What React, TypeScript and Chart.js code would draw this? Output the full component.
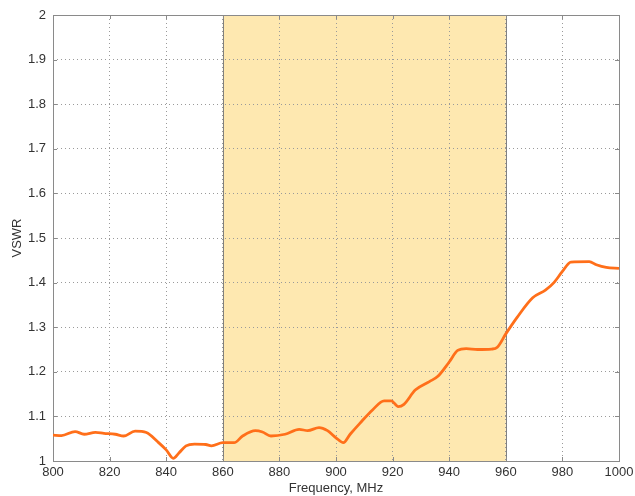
import React, { useEffect, useRef } from "react";
import { Chart, registerables } from "chart.js";

Chart.register(...registerables);

const freqMHz = [
  800, 803, 807.8, 811, 815, 818, 822, 825, 829, 833, 837, 840, 842.5, 844.5, 847, 850, 854, 856,
  860, 864, 867, 871.5, 874, 877, 882, 887, 890, 894, 897, 900, 902.6, 905, 908.5, 913, 917, 919.5,
  922, 924, 928, 933, 936, 940, 943, 946, 950, 955, 957, 960, 964, 969.5, 974, 977, 980, 983, 989.5,
  992, 995.5, 1000,
];
const vswr = [
  1.058, 1.057, 1.066, 1.06, 1.064, 1.062, 1.06, 1.056, 1.067, 1.064, 1.043, 1.025, 1.006, 1.018,
  1.034, 1.038, 1.037, 1.034, 1.041, 1.041, 1.056, 1.068, 1.065, 1.056, 1.06, 1.071, 1.068, 1.075,
  1.068, 1.052, 1.041, 1.06, 1.085, 1.115, 1.135, 1.135, 1.122, 1.127, 1.159, 1.178, 1.19, 1.222,
  1.248, 1.252, 1.25, 1.251, 1.255, 1.285, 1.322, 1.366, 1.383, 1.4, 1.425, 1.446, 1.447, 1.44,
  1.434, 1.432,
];
const bandStart = 860;
const bandEnd = 960;
const xMin = 800;
const xMax = 1000;
const yMin = 1;
const yMax = 2;

const FONT = { family: "'Liberation Sans', Arial, sans-serif", size: 13 };
const TEXT = "#333333";

const framePlugin = {
  id: "frame",
  beforeDraw(chart: any) {
    const { ctx, chartArea } = chart;
    const xs = chart.scales.x;
    const x0 = xs.getPixelForValue(bandStart);
    const x1 = xs.getPixelForValue(bandEnd);
    ctx.save();
    ctx.fillStyle = "#FEE8B0";
    ctx.fillRect(x0, chartArea.top, x1 - x0, chartArea.bottom - chartArea.top);
    ctx.restore();
  },
  beforeDatasetsDraw(chart: any) {
    const { ctx, chartArea } = chart;
    const xs = chart.scales.x;
    const ys = chart.scales.y;
    const { left, right, top, bottom } = chartArea;
    ctx.save();
    ctx.strokeStyle = "#808080";
    ctx.lineWidth = 1;
    [bandStart, bandEnd].forEach((v) => {
      const px = Math.round(xs.getPixelForValue(v)) + 0.5;
      ctx.beginPath();
      ctx.moveTo(px, top);
      ctx.lineTo(px, bottom);
      ctx.stroke();
    });
    ctx.strokeStyle = "#8a8a8a";
    ctx.strokeRect(Math.round(left) + 0.5, Math.round(top) + 0.5, Math.round(right - left), Math.round(bottom - top));
    const tl = 4;
    xs.ticks.forEach((t: any) => {
      const px = Math.round(xs.getPixelForValue(t.value)) + 0.5;
      ctx.beginPath();
      ctx.moveTo(px, bottom);
      ctx.lineTo(px, bottom - tl);
      ctx.moveTo(px, top);
      ctx.lineTo(px, top + tl);
      ctx.stroke();
    });
    ys.ticks.forEach((t: any) => {
      const py = Math.round(ys.getPixelForValue(t.value)) + 0.5;
      ctx.beginPath();
      ctx.moveTo(left, py);
      ctx.lineTo(left + tl, py);
      ctx.moveTo(right, py);
      ctx.lineTo(right - tl, py);
      ctx.stroke();
    });
    ctx.restore();
  },
};

export default function App() {
  const ref = useRef<HTMLCanvasElement | null>(null);
  useEffect(() => {
    if (!ref.current) return;
    const chart = new Chart(ref.current, {
      type: "line",
      data: {
        datasets: [
          {
            data: freqMHz.map((f, i) => ({ x: f, y: vswr[i] })),
            borderColor: "#FF6F1A",
            borderWidth: 2.8,
            pointRadius: 0,
            cubicInterpolationMode: "monotone",
            fill: false,
          },
        ],
      },
      options: {
        responsive: false,
        animation: false,
        layout: { padding: { left: 0, right: 16, top: 15, bottom: 0 } },
        plugins: { legend: { display: false }, tooltip: { enabled: false } },
        scales: {
          x: {
            type: "linear",
            min: xMin,
            max: xMax,
            ticks: {
              stepSize: 20,
              font: FONT,
              color: TEXT,
              padding: 4,
              maxRotation: 0,
              callback: (v: any) => String(Math.round(Number(v))),
            },
            grid: { color: "#9a9a9a", drawTicks: false, lineWidth: 1 },
            border: { display: false, dash: [1, 3] },
            title: { display: true, text: "Frequency, MHz", font: FONT, color: TEXT, padding: 0 },
            afterFit: (s: any) => {
              s.height = 35;
              s.paddingLeft = 0;
              s.paddingRight = 0;
            },
          },
          y: {
            type: "linear",
            min: yMin,
            max: yMax,
            ticks: {
              stepSize: 0.1,
              font: FONT,
              color: TEXT,
              padding: 7,
              callback: (v: any) => String(Math.round(Number(v) * 10) / 10),
            },
            grid: { color: "#9a9a9a", drawTicks: false, lineWidth: 1 },
            border: { display: false, dash: [1, 3] },
            title: { display: true, text: "VSWR", font: FONT, color: TEXT, padding: { top: 10, bottom: 0 } },
            afterFit: (s: any) => {
              s.width = 53;
              s.paddingTop = 0;
              s.paddingBottom = 0;
            },
          },
        },
      },
      plugins: [framePlugin],
    } as any);
    return () => chart.destroy();
  }, []);
  return (
    <div style={{ position: "absolute", left: 0, top: 0, width: 635, height: 496, background: "#fff" }}>
      <canvas ref={ref} width={635} height={496} style={{ display: "block", width: 635, height: 496 }} />
    </div>
  );
}
